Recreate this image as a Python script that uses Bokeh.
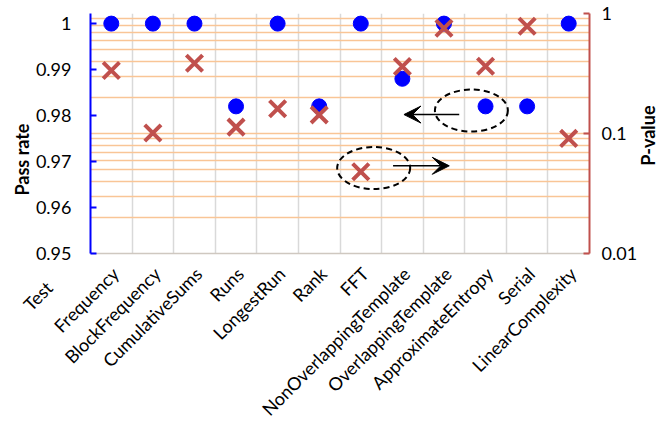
import math
from bokeh.plotting import figure
from bokeh.models import (Range1d, LogScale, LogAxis, FixedTicker, CustomJSTickFormatter,
                          Grid, Label, Arrow, VeeHead)
from bokeh.embed import file_html
from bokeh.resources import INLINE

# ---- data ----
tests = ["Frequency", "BlockFrequency", "CumulativeSums", "Runs", "LongestRun", "Rank", "FFT",
         "NonOverlappingTemplate", "OverlappingTemplate", "ApproximateEntropy", "Serial",
         "LinearComplexity"]
pass_rate = [1.0, 1.0, 1.0, 0.982, 1.0, 0.982, 1.0, 0.988, 1.0, 0.982, 0.982, 1.0]
p_value = [0.335, 0.101, 0.385, 0.113, 0.161, 0.143, 0.048, 0.362, 0.754, 0.363, 0.784, 0.091]
left_ticks = [0.95, 0.96, 0.97, 0.98, 0.99, 1.0]
right_ticks = [0.01, 0.1, 1]
right_minor = [k * 10.0 ** e for e in (-2, -1) for k in range(2, 10)]
x_title = "Test"
left_title = "Pass rate"
right_title = "P-value"

FONT = "Lato"
BLUE = "#0000FF"
RED = "#C0504D"
ORANGE = "#F9C596"
GREY = "#D9D9D9"
NB = "\u00A0"

xs = [i + 0.5 for i in range(len(tests))]
label_ticks = [x + 0.10 for x in xs]
title_tick = 0.24  # position on the category axis that carries the axis title

p = figure(width=662, height=432, output_backend="svg", toolbar_location=None,
           x_range=Range1d(0, len(tests)), y_range=Range1d(0.95, 1.0022),
           min_border_left=90, min_border_right=69, min_border_top=13, min_border_bottom=179)
p.outline_line_color = None
p.background_fill_color = "white"
p.border_fill_color = "white"
p.extra_y_ranges = {"p": Range1d(0.01, 1)}
p.extra_y_scales = {"p": LogScale()}

# left axis
ya = p.yaxis[0]
ya.ticker = FixedTicker(ticks=left_ticks)
ya.formatter = CustomJSTickFormatter(code="return tick.toFixed(2).replace(/\\.?0+$/, '')")
ya.axis_line_color = BLUE
ya.axis_line_width = 2
ya.major_tick_line_color = BLUE
ya.major_tick_line_width = 2
ya.major_tick_in = 6
ya.major_tick_out = 0
ya.minor_tick_line_color = None
ya.major_label_standoff = 19
ya.major_label_text_font = FONT
ya.major_label_text_font_size = "18px"
ya.major_label_text_color = "black"

# bottom axis (category names; the axis title rides on an extra tick)
title_text = x_title + NB * 10 + "\n" + NB + "\n" + NB
xa = p.xaxis[0]
xa.ticker = FixedTicker(ticks=[title_tick] + label_ticks)
xa.formatter = CustomJSTickFormatter(
    args=dict(labels=tests, title=title_text),
    code="return (tick - Math.floor(tick) < 0.4) ? title : labels[Math.floor(tick)]")
xa.major_label_orientation = math.pi / 4
xa.axis_line_color = "#CFC8C0"
xa.axis_line_width = 1.5
xa.major_tick_line_color = None
xa.minor_tick_line_color = None
xa.major_label_standoff = 11
xa.major_label_text_font = FONT
xa.major_label_text_font_size = "18px"
xa.major_label_text_color = "black"

# right log axis
ra = LogAxis(y_range_name="p", ticker=FixedTicker(ticks=right_ticks, minor_ticks=right_minor),
             formatter=CustomJSTickFormatter(code="return tick.toString()"))
ra.axis_line_color = RED
ra.axis_line_width = 2
ra.major_tick_line_color = RED
ra.major_tick_line_width = 2
ra.major_tick_in = 6
ra.major_tick_out = 0
ra.minor_tick_line_color = None
ra.major_label_standoff = 8
ra.major_label_text_font = FONT
ra.major_label_text_font_size = "18px"
ra.major_label_text_color = "black"
p.add_layout(ra, "right")

# grids
p.ygrid.visible = False
p.xgrid.ticker = FixedTicker(ticks=list(range(1, len(tests))))
p.xgrid.grid_line_color = GREY
p.xgrid.grid_line_width = 1.5
og = Grid(dimension=1, axis=ra, y_range_name="p",
          ticker=FixedTicker(ticks=right_ticks, minor_ticks=right_minor),
          grid_line_color=ORANGE, grid_line_width=1.5,
          minor_grid_line_color=ORANGE, minor_grid_line_width=1.5)
p.add_layout(og, "center")

# marks
p.scatter(xs, pass_rate, marker="circle", size=15, fill_color=BLUE, line_color=BLUE)
p.scatter(xs, p_value, marker="x", size=23, line_width=4, line_color=RED, y_range_name="p")

# annotations: dashed ellipses and arrows
p.ellipse(x=[9.16, 6.81], y=[0.98109, 0.96859], width=73, height=42,
          width_units="screen", height_units="screen", fill_color=None,
          line_color="black", line_width=2, line_dash="6 4")
p.add_layout(Arrow(end=VeeHead(size=17, fill_color="black", line_color="black", line_width=1),
                   x_start=8.867, y_start=0.98022, x_end=7.538, y_end=0.98022,
                   line_color="black", line_width=1.5))
p.add_layout(Arrow(end=VeeHead(size=17, fill_color="black", line_color="black", line_width=1),
                   x_start=7.276, y_start=0.96907, x_end=8.628, y_end=0.96907,
                   line_color="black", line_width=1.5))

# axis titles in the side panels (so they are not clipped to the frame)
p.add_layout(Label(x=-1.646, y=0.970435, text=left_title, angle=math.pi / 2,
                   text_align="center", text_baseline="middle", text_font=FONT,
                   text_font_size="18px", text_font_style="bold", text_color="black"), "left")
p.add_layout(Label(x=13.41, y=0.97565, text=right_title, angle=math.pi / 2,
                   text_align="center", text_baseline="middle", text_font=FONT,
                   text_font_size="18px", text_font_style="bold", text_color="black"), "right")

open("out.html", "w").write(file_html(p, INLINE))
